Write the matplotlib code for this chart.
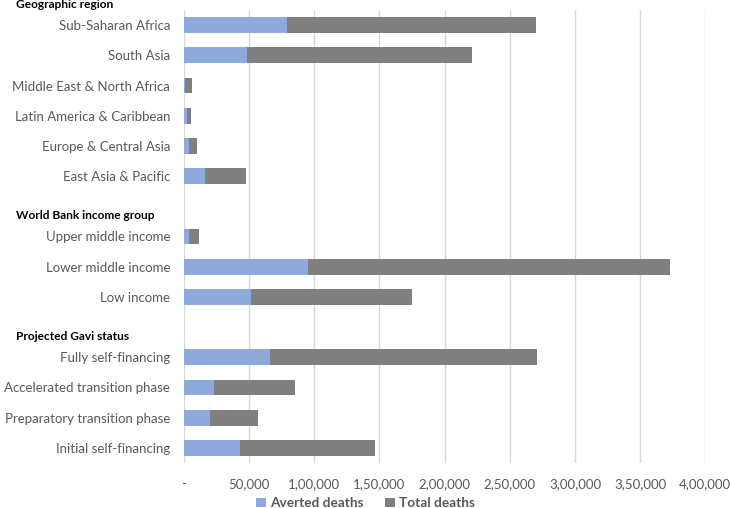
import matplotlib
matplotlib.use('Agg')
import matplotlib.pyplot as plt
import matplotlib.transforms as mtransforms
import numpy as np

# === DATA ===
group_titles = ['Geographic region', 'World Bank income group', 'Projected Gavi status']

region_labels = ['Sub-Saharan Africa', 'South Asia', 'Middle East & North Africa',
                 'Latin America & Caribbean', 'Europe & Central Asia', 'East Asia & Pacific']
region_averted = [79400, 48600, 500, 2000, 3600, 16400]
region_total = [270100, 220700, 6000, 5700, 10000, 47200]

income_labels = ['Upper middle income', 'Lower middle income', 'Low income']
income_averted = [3600, 95300, 51800]
income_total = [11400, 373000, 174900]

gavi_labels = ['Fully self-financing', 'Accelerated transition phase',
               'Preparatory transition phase', 'Initial self-financing']
gavi_averted = [66200, 22900, 19700, 42600]
gavi_total = [271200, 84800, 56900, 146300]

x_ticks = [0, 50000, 100000, 150000, 200000, 250000, 300000, 350000, 400000]
x_tick_labels = ['-', '50,000', '1,00,000', '1,50,000', '2,00,000',
                 '2,50,000', '3,00,000', '3,50,000', '4,00,000']

# === STYLE ===
BLUE = '#8EA9DB'
GRAY = '#7F7F7F'
GRID = '#D9D9D9'
TEXT = '#595959'

plt.rcParams['font.family'] = ['Lato', 'DejaVu Sans']

# build rows: one blank row between groups
groups = [(region_labels, region_averted, region_total),
          (income_labels, income_averted, income_total),
          (gavi_labels, gavi_averted, gavi_total)]
labels, averted, total, header_pos = [], [], [], []
for gi, (lab, av, tot) in enumerate(groups):
    if gi > 0:
        labels.append('')
        averted.append(np.nan)
        total.append(np.nan)
    header_pos.append(len(labels) - 0.68)
    labels += lab
    averted += av
    total += tot
averted = np.array(averted, dtype=float)
total = np.array(total, dtype=float)
y_pos = np.arange(len(labels))

fig = plt.figure(figsize=(7.31, 5.08), dpi=100)
ax = fig.add_axes([0.2517, 0.0886, 0.7131, 0.8917])

bh = 0.52
ax.barh(y_pos, averted, bh, color=BLUE, label='Averted deaths')
ax.barh(y_pos, total - averted, bh, left=averted, color=GRAY, label='Total deaths')

ax.set_ylim(len(labels) - 0.5, -0.5)
ax.set_xlim(0, 400000)
ax.set_yticks(y_pos)
ax.set_yticklabels(labels, fontsize=9.5, color=TEXT)
ax.set_xticks(x_ticks)
ax.set_xticklabels(x_tick_labels, fontsize=9.5, color=TEXT)
ax.tick_params(axis='y', length=0, pad=10)
ax.tick_params(axis='x', length=0, pad=11)

for s in ax.spines.values():
    s.set_visible(False)
ax.grid(axis='x', color=GRID, linewidth=1)
ax.grid(axis='y', visible=False)
ax.set_axisbelow(True)

# group headers
trans = mtransforms.blended_transform_factory(fig.transFigure, ax.transData)
for title, yp in zip(group_titles, header_pos):
    ax.text(0.022, yp, title, transform=trans, ha='left', va='center',
            fontsize=8.6, fontweight='bold', color='black', clip_on=False)

ax.legend(loc='lower center', bbox_to_anchor=(0.5, -0.016), bbox_transform=fig.transFigure,
          ncol=2, frameon=False, prop={'weight': 'bold', 'size': 9.8},
          handlelength=0.7, handleheight=0.7, handletextpad=0.3, columnspacing=1.6,
          labelcolor=TEXT, borderpad=0)

fig.savefig('out.png', dpi=100, facecolor='white')
